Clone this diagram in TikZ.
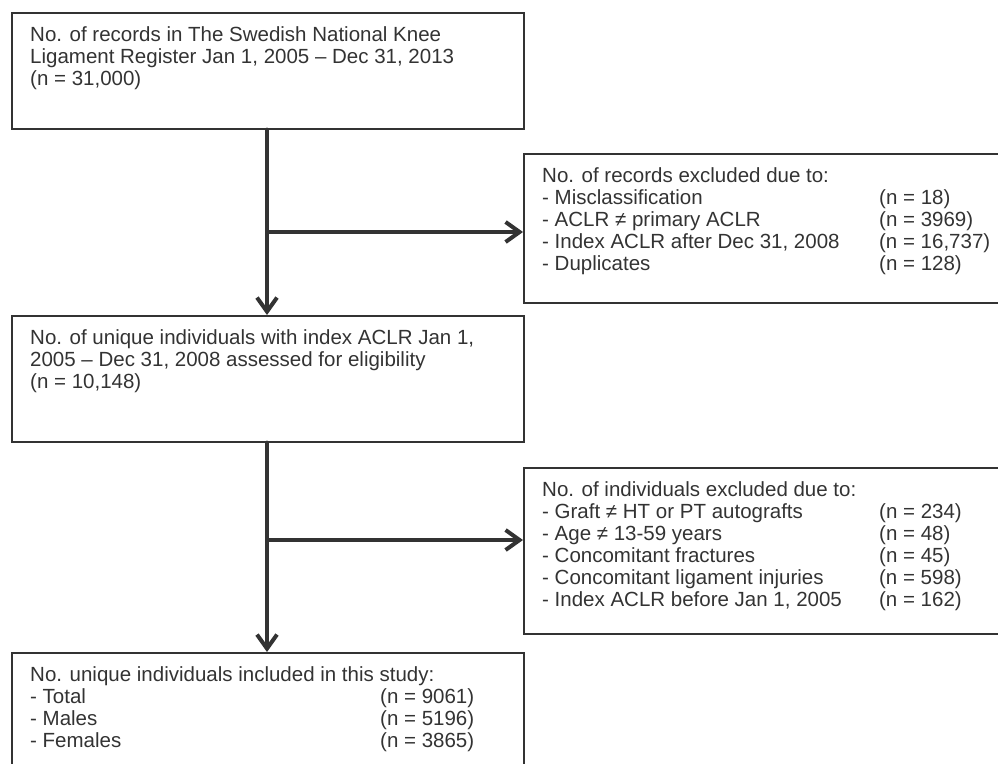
\documentclass[tikz,border=0pt]{standalone}
\usepackage{fontspec}
\setmainfont{Liberation Sans}
\usetikzlibrary{arrows.meta, positioning}

\definecolor{ink}{HTML}{333333}

\tikzset{
  box/.style={draw=ink, line width=1.6pt, anchor=north west, inner sep=0pt},
  boxtext/.style={anchor=north west, inner sep=0pt, align=left, text=ink,
    font=\fontsize{20.5}{22}\selectfont},
  flow/.style={draw=ink, line width=4pt, line cap=round,
    -{Straight Barb[length=14pt, width=20pt, line width=4pt]}},
}

\begin{document}
\begin{tikzpicture}[x=1pt, y=-1pt]
		\useasboundingbox (0,0) rectangle (998,763);
		\clip (0,0) rectangle (998,763);
		% Boxes
		\node[box, minimum width=512pt, minimum height=116pt] (records) at (11,12) {};
		\node[box, minimum width=500pt, minimum height=149pt] (exrec) at (523,153) {};
		\node[box, minimum width=512pt, minimum height=126pt] (unique) at (11,315) {};
		\node[box, minimum width=500pt, minimum height=166pt] (exind) at (523,467) {};
		\node[box, minimum width=512pt, minimum height=140pt] (study) at (11,652) {};
		% Texts
		\node[boxtext] (recordstxt) at ([xshift=19pt, yshift=-14pt]records.north west)
			{No. of records in The Swedish National Knee\\
			 Ligament Register Jan 1, 2005 -- Dec 31, 2013\\
			 (n = 31,000)};
		\node[boxtext] (exrectxt) at ([xshift=19pt, yshift=-14pt]exrec.north west)
			{No. of records excluded due to:\\
			 \makebox[337pt][l]{- Misclassification}(n = 18)\\
			 \makebox[337pt][l]{- ACLR ≠ primary ACLR}(n = 3969)\\
			 \makebox[337pt][l]{- Index ACLR after Dec 31, 2008}(n = 16,737)\\
			 \makebox[337pt][l]{- Duplicates}(n = 128)};
		\node[boxtext] (uniquetxt) at ([xshift=19pt, yshift=-14pt]unique.north west)
			{No. of unique individuals with index ACLR Jan 1,\\
			 2005 -- Dec 31, 2008 assessed for eligibility\\
			 (n = 10,148)};
		\node[boxtext] (exindtxt) at ([xshift=19pt, yshift=-14pt]exind.north west)
			{No. of individuals excluded due to:\\
			 \makebox[337pt][l]{- Graft ≠ HT or PT autografts}(n = 234)\\
			 \makebox[337pt][l]{- Age ≠ 13-59 years}(n = 48)\\
			 \makebox[337pt][l]{- Concomitant fractures}(n = 45)\\
			 \makebox[337pt][l]{- Concomitant ligament injuries}(n = 598)\\
			 \makebox[337pt][l]{- Index ACLR before Jan 1, 2005}(n = 162)};
		\node[boxtext] (studytxt) at ([xshift=19pt, yshift=-14pt]study.north west)
			{No. unique individuals included in this study:\\
			 \makebox[350pt][l]{- Total}(n = 9061)\\
			 \makebox[350pt][l]{- Males}(n = 5196)\\
			 \makebox[350pt][l]{- Females}(n = 3865)};
		% Connectors
		\coordinate (split1) at (267,232);
		\coordinate (split2) at (267,540);
		\draw[flow] (records.south -| split1) -- (unique.north -| split1);
		\draw[flow] (split1) -- (split1 -| exrec.west);
		\draw[flow] (unique.south -| split2) -- (study.north -| split2);
		\draw[flow] (split2) -- (split2 -| exind.west);
	\end{tikzpicture}
\end{document}
